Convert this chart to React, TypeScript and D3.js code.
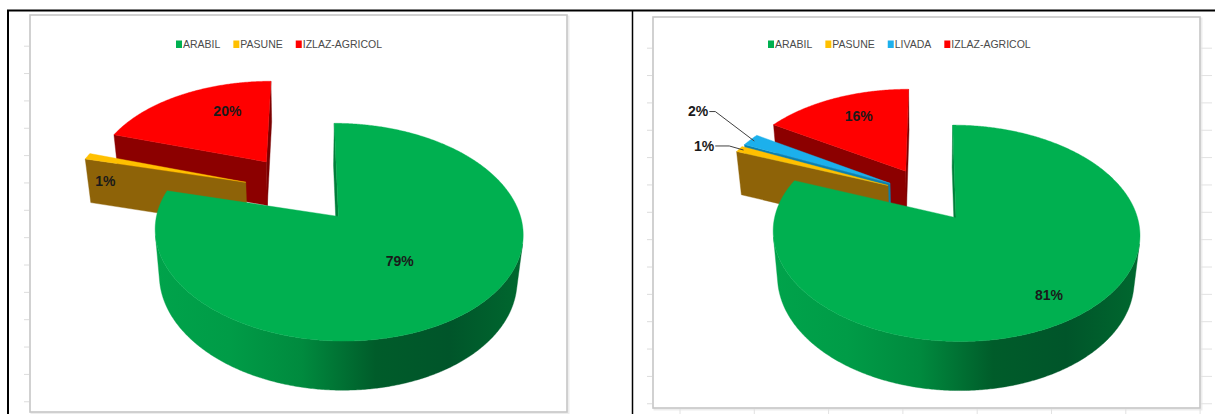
import React from 'react';
import * as d3 from 'd3';

// ---------- data ----------
const leftCategories = ['ARABIL', 'PASUNE', 'IZLAZ-AGRICOL'];
const leftValues = [79, 1, 20];
const rightCategories = ['ARABIL', 'PASUNE', 'LIVADA', 'IZLAZ-AGRICOL'];
const rightValues = [81, 1, 2, 16];

// ---------- styles ----------
const STYLE: Record<string, { top: string; wallA: string; wallB: string; side: string[] }> = {
  ARABIL: { top: '#00B050', wallA: '#007E3A', wallB: '#007E3A', side: ['#00A34B', '#009C47', '#008A3E', '#005C2A', '#00552A', '#00682F'] },
  PASUNE: { top: '#FFC000', wallA: '#8E6308', wallB: '#8E6308', side: ['#B08000', '#8E6308'] },
  LIVADA: { top: '#1CB0EC', wallA: '#0B7FAE', wallB: '#0B7FAE', side: ['#1090C8', '#0B7FAE'] },
  'IZLAZ-AGRICOL': { top: '#FF0000', wallA: '#8C0000', wallB: '#7A0000', side: ['#B00000', '#8C0000'] },
};

type V3 = [number, number, number];
interface Cam { cx: number; cy: number; sx: number; sy: number; alpha: number; F: number }
interface LabelSpec { rho: number; dTheta: number; y: number; outside?: boolean; hlen?: number }
interface Layout {
  id: string;
  frame: { x: number; y: number; w: number; h: number };
  cam: Cam;
  explode: number[];
  H: number;
  legendX: number;
  legendY: number;
  labels: LabelSpec[];
  ticksLeft: boolean;
  ticksRight: boolean;
  ticksBottom: boolean;
}

const DEG = Math.PI / 180;

const leftLayout: Layout = {
  id: 'L',
  frame: { x: 30, y: 15, w: 537, h: 397 },
  cam: { cx: 305, cy: 192, sx: 176, sy: 183, alpha: 33 * DEG, F: 6 },
  explode: [0.3, 0.355, 0.39],
  H: 0.3,
  legendX: 176,
  legendY: 48,
  labels: [
    { rho: 0.5, dTheta: 0, y: 0 },
    { rho: 0.9, dTheta: 0, y: -0.15 },
    { rho: 0.66, dTheta: 12, y: 0 },
  ],
  ticksLeft: true,
  ticksRight: false,
  ticksBottom: false,
};

const rightLayout: Layout = {
  id: 'R',
  frame: { x: 653, y: 17, w: 547, h: 391 },
  cam: { cx: 929.5, cy: 195.6, sx: 176, sy: 183, alpha: 33 * DEG, F: 6 },
  explode: [0.26, 0.26, 0.26, 0.29],
  H: 0.3,
  legendX: 768,
  legendY: 48,
  labels: [
    { rho: 0.8, dTheta: 0, y: 0 },
    { rho: 1.075, dTheta: 0.3, y: 0, outside: true, hlen: 14 },
    { rho: 1.42, dTheta: 7, y: 0, outside: true, hlen: 6 },
    { rho: 0.72, dTheta: 3, y: 0 },
  ],
  ticksLeft: true,
  ticksRight: true,
  ticksBottom: true,
};

function proj(c: Cam, p: V3): [number, number] {
  const ca = Math.cos(c.alpha), sa = Math.sin(c.alpha);
  const Y = p[1] * ca + p[2] * sa;
  const D = p[2] * ca - p[1] * sa;
  const k = c.F / (c.F + D);
  return [c.cx + c.sx * p[0] * k, c.cy - c.sy * Y * k];
}

const line = d3.line<[number, number]>();
const poly = (pts: [number, number][]) => (line(pts) || '') + 'Z';

let measureCtx: CanvasRenderingContext2D | null = null;
function measure(t: string, font: string) {
  if (!measureCtx) measureCtx = document.createElement('canvas').getContext('2d');
  if (!measureCtx) return t.length * 6;
  measureCtx.font = font;
  return measureCtx.measureText(t).width;
}

const pct = d3.format('.0%');
const LEGEND_FONT_SIZE = 10.5;
const LEGEND_FAMILY = '"Liberation Sans", Arial, sans-serif';

function PiePanel({ cats, vals, L }: { cats: string[]; vals: number[]; L: Layout }) {
  const cam = L.cam;
  const Cz = -cam.F * Math.cos(cam.alpha);
  const total = d3.sum(vals);
  const arcs = d3.pie<number>().sort(null).value((d) => d).startAngle(0).endAngle(2 * Math.PI)(vals);
  const H = L.H;

  const slices = arcs.map((a, i) => {
    const t1 = a.startAngle, t2 = a.endAngle, mid = (t1 + t2) / 2;
    const e = L.explode[i];
    const o: V3 = [e * Math.sin(mid), 0, e * Math.cos(mid)];
    const pt = (t: number, r: number, y: number): V3 => [o[0] + r * Math.sin(t), y, o[2] + r * Math.cos(t)];
    const n = Math.max(2, Math.ceil((t2 - t1) / (0.5 * DEG)));
    const ts = d3.range(n + 1).map((j) => t1 + ((t2 - t1) * j) / n);
    const cat = cats[i];
    const st = STYLE[cat];
    const faces: { d: string; fill: string; key: string }[] = [];
    const wallVisStart = -Math.cos(t1) * (0 - o[0]) + Math.sin(t1) * (Cz - o[2]) > 0;
    const wallVisEnd = Math.cos(t2) * (0 - o[0]) - Math.sin(t2) * (Cz - o[2]) > 0;
    const wall = (t: number) =>
      poly([proj(cam, pt(t, 0, 0)), proj(cam, pt(t, 1, 0)), proj(cam, pt(t, 1, -H)), proj(cam, pt(t, 0, -H))]);
    if (wallVisEnd) faces.push({ d: wall(t2), fill: st.wallB, key: 'we' });
    if (wallVisStart) faces.push({ d: wall(t1), fill: st.wallA, key: 'ws' });
    const vis = ts.map((t) => Math.sin(t) * (0 - o[0]) + Math.cos(t) * (Cz - o[2]) - 1 > 0);
    const runs: number[][] = [];
    let cur: number[] = [];
    ts.forEach((t, j) => {
      if (vis[j]) cur.push(t);
      else if (cur.length) { runs.push(cur); cur = []; }
    });
    if (cur.length) runs.push(cur);
    runs.forEach((r, ri) => {
      if (r.length < 2) return;
      const topPts = r.map((t) => proj(cam, pt(t, 1, 0)));
      const botPts = r.slice().reverse().map((t) => proj(cam, pt(t, 1, -H)));
      faces.push({ d: poly([...topPts, ...botPts]), fill: `url(#side-${L.id}-${i})`, key: 'side' + ri });
    });
    const topPoly: [number, number][] = [proj(cam, pt(t1, 0, 0)), ...ts.map((t) => proj(cam, pt(t, 1, 0)))];
    faces.push({ d: poly(topPoly), fill: st.top, key: 'top' });

    const ls = L.labels[i];
    const lt = mid + ls.dTheta * DEG;
    const lp = proj(cam, pt(lt, ls.rho, ls.y));
    const label = pct(vals[i] / total);
    let leader: string | null = null;
    let textX = lp[0], anchor = 'middle';
    if (ls.outside) {
      const sp = proj(cam, pt(mid, 0.97, 0));
      const hl = ls.hlen || 6;
      leader = line([sp, lp, [lp[0] - hl, lp[1]]]) || '';
      textX = lp[0] - hl - 1;
      anchor = 'end';
    }
    const depth = o[2] + 0.6 * Math.cos(mid);
    return { i, cat, st, faces, depth, label, lp, textX, anchor, leader };
  });

  const order = slices.slice().sort((a, b) => b.depth - a.depth);
  const F = L.frame;

  const font = `${LEGEND_FONT_SIZE}px ${LEGEND_FAMILY}`;
  let lx = L.legendX;
  const legendItems = cats.map((c) => {
    const item = { c, x: lx };
    lx += 7 + measure(c, font) + 13;
    return item;
  });

  const ticksY = d3.range(F.y + 31.2, F.y + F.h, 27.35);
  const ticksX = d3.range(F.x + 27, F.x + F.w + 6, 74.3);

  return (
    <g>
      <rect x={F.x + 1.5} y={F.y + 1.5} width={F.w} height={F.h} fill="none" stroke="#ededed" strokeWidth={2} />
      <rect x={F.x} y={F.y} width={F.w} height={F.h} fill="#ffffff" stroke="#c6c6c6" strokeWidth={1.6} />
      {ticksY.map((y) => (
        <g key={y}>
          {L.ticksLeft && <line x1={F.x - 6} x2={F.x - 1} y1={y} y2={y} stroke="#dcdcdc" strokeWidth={1} />}
          {L.ticksRight && <line x1={F.x + F.w + 1} x2={F.x + F.w + 12} y1={y} y2={y} stroke="#e2e2e2" strokeWidth={1} />}
        </g>
      ))}
      {L.ticksBottom &&
        ticksX.map((x) => <line key={x} x1={x} x2={x} y1={F.y + F.h + 1} y2={414} stroke="#e2e2e2" strokeWidth={1} />)}
      <defs>
        {slices.map((s) => (
          <linearGradient key={s.i} id={`side-${L.id}-${s.i}`} x1="0" x2="1" y1="0" y2="0">
            {s.st.side.map((c, j) => (
              <stop key={j} offset={s.st.side.length === 1 ? 0 : j / (s.st.side.length - 1)} stopColor={c} />
            ))}
          </linearGradient>
        ))}
      </defs>
      {legendItems.map((it) => (
        <g key={it.c}>
          <rect x={it.x} y={L.legendY - 7.5} width={6} height={7.5} fill={STYLE[it.c].top} />
          <text x={it.x + 7} y={L.legendY} fontSize={LEGEND_FONT_SIZE} fontFamily={LEGEND_FAMILY} fill="#4a4a4a">
            {it.c}
          </text>
        </g>
      ))}
      {order.map((s) => (
        <g key={s.i}>
          {s.faces.map((f) => (
            <path key={f.key} d={f.d} fill={f.fill} stroke={f.fill} strokeWidth={0.4} strokeLinejoin="round" />
          ))}
        </g>
      ))}
      {slices.map((s) => (
        <g key={'l' + s.i}>
          {s.leader && <path d={s.leader} fill="none" stroke="#404040" strokeWidth={1} />}
          <text
            x={s.textX}
            y={s.lp[1]}
            dy="0.35em"
            textAnchor={s.anchor as any}
            fontSize={14}
            fontWeight="bold"
            fontFamily='"Liberation Sans", Arial, sans-serif'
            fill="#1a1a1a"
          >
            {s.label}
          </text>
        </g>
      ))}
    </g>
  );
}

export default function App() {
  return (
    <svg width={1215} height={414} style={{ position: 'absolute', left: 0, top: 0, background: '#fff' }}>
      <rect x={0} y={0} width={1215} height={414} fill="#ffffff" />
      <PiePanel cats={leftCategories} vals={leftValues} L={leftLayout} />
      <PiePanel cats={rightCategories} vals={rightValues} L={rightLayout} />
      <line x1={7} x2={1215} y1={10.5} y2={10.5} stroke="#000" strokeWidth={2} />
      <line x1={8} x2={8} y1={10} y2={414} stroke="#000" strokeWidth={2} />
      <line x1={632.5} x2={632.5} y1={10} y2={414} stroke="#000" strokeWidth={1.5} />
    </svg>
  );
}
